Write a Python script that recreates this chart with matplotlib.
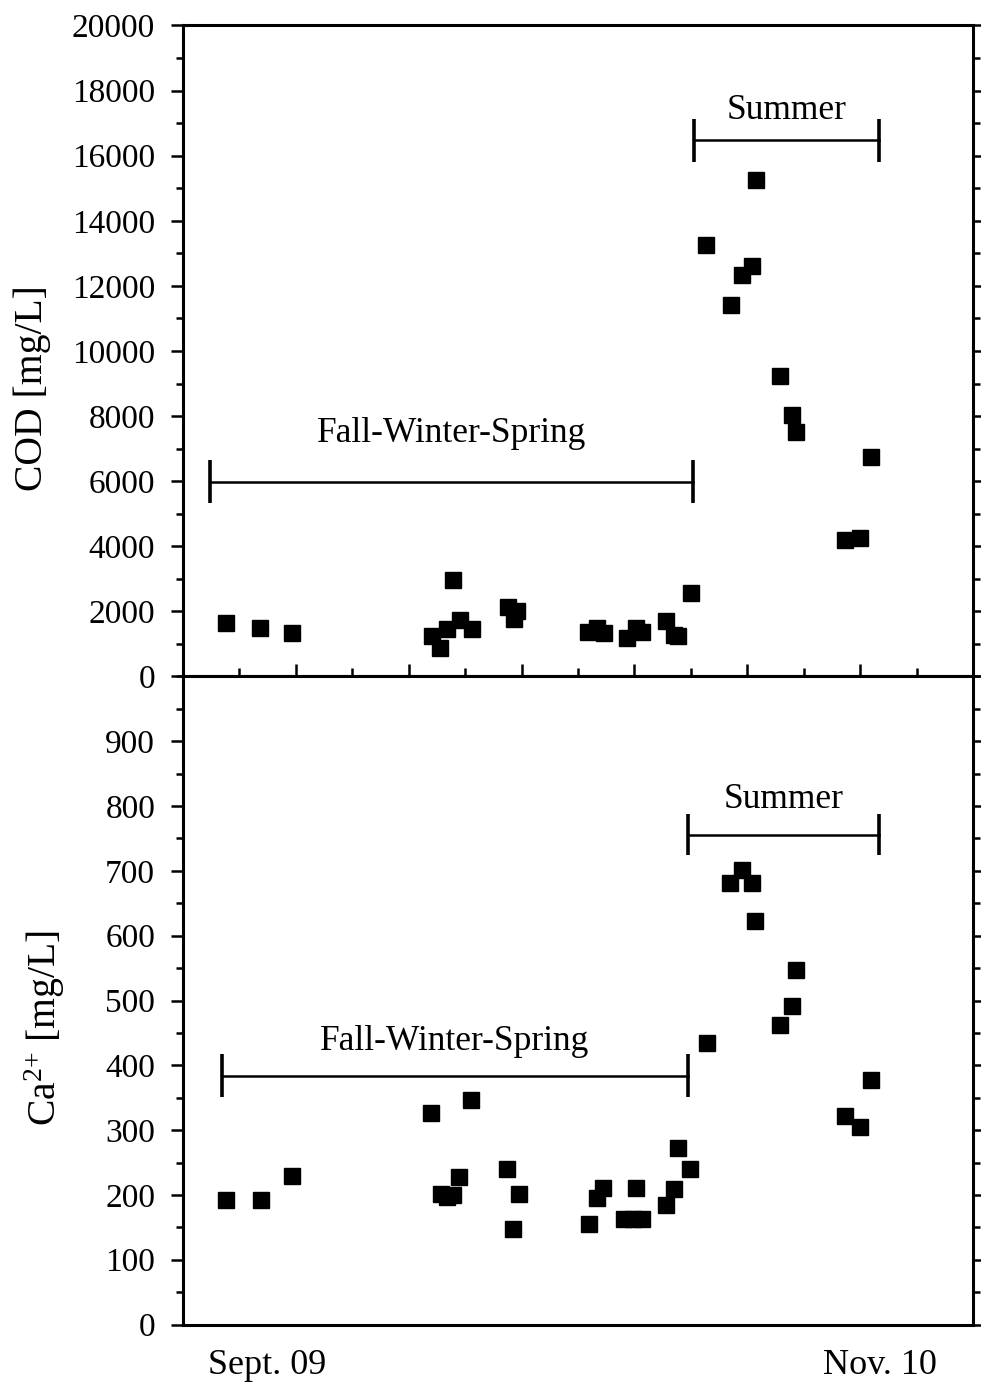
import matplotlib
matplotlib.use("Agg")
import matplotlib.pyplot as plt
from matplotlib.ticker import MultipleLocator

plt.rcParams['font.family'] = ['Liberation Serif', 'DejaVu Serif']
plt.rcParams['mathtext.default'] = 'regular'

# ---- data (x = months since Sept. 2009) ----
cod_month = [0.76, 1.37, 1.94, 4.41, 4.55, 4.67, 4.79, 4.90, 5.12, 5.76, 5.86, 5.92,
             7.18, 7.33, 7.46, 7.86, 8.02, 8.13, 8.56, 8.70, 8.78, 9.00, 9.26, 9.71,
             9.91, 10.08, 10.15, 10.58, 10.80, 10.87, 11.73, 12.00, 12.19]
cod_mgL = [1650, 1480, 1330, 1230, 880, 1470, 2970, 1750, 1470, 2130, 1780, 2010,
           1380, 1480, 1350, 1180, 1480, 1380, 1720, 1280, 1250, 2560, 13270, 11420,
           12320, 12620, 15250, 9230, 8040, 7500, 4200, 4240, 6740]

ca_month = [0.76, 1.38, 1.94, 4.40, 4.57, 4.67, 4.79, 4.89, 5.11, 5.75, 5.85, 5.96,
            7.19, 7.33, 7.44, 7.82, 7.98, 8.13, 8.02, 8.56, 8.70, 8.78, 8.99, 9.28,
            9.70, 9.91, 10.09, 10.14, 10.58, 10.80, 10.86, 11.73, 12.00, 12.19]
ca_mgL = [192, 192, 229, 326, 202, 196, 200, 228, 346, 240, 148, 202,
          155, 195, 211, 163, 163, 163, 211, 185, 209, 273, 240, 434,
          682, 702, 682, 623, 462, 492, 547, 321, 305, 378]

# season brackets: (start month, end month)
fws_span = (0.48, 9.04)
summer_span_cod = (9.06, 12.33)
fws_span_ca = (0.69, 8.95)
summer_span_ca = (8.95, 12.33)
season_labels = ["Fall-Winter-Spring", "Summer"]
x_labels = ["Sept. 09", "Nov. 10"]

W, H = 981, 1395
fig = plt.figure(figsize=(W / 100, H / 100), dpi=100)

left = 183 / W
width = (973 - 183) / W
ax1 = fig.add_axes([left, 1 - 676.5 / H, width, (676.5 - 25.5) / H])
ax2 = fig.add_axes([left, 1 - 1324.5 / H, width, (1324.5 - 676.5) / H])

spine_lw = 2.2
for ax in (ax1, ax2):
    for s in ax.spines.values():
        s.set_linewidth(spine_lw)
    ax.set_xlim(0, 14)

# top panel
ax1.plot(cod_month, cod_mgL, 's', color='black', markersize=11.5, zorder=5)
ax1.set_ylim(0, 20000)
ax1.yaxis.set_major_locator(MultipleLocator(2000))
ax1.yaxis.set_minor_locator(MultipleLocator(1000))
ax1.xaxis.set_major_locator(MultipleLocator(2))
ax1.xaxis.set_minor_locator(MultipleLocator(1))
ax1.tick_params(axis='x', which='major', direction='inout', length=18, width=1.8,
                bottom=True, top=False, labelbottom=False)
ax1.tick_params(axis='x', which='minor', direction='inout', length=11, width=1.8,
                bottom=True, top=False)

# bottom panel
ax2.plot(ca_month, ca_mgL, 's', color='black', markersize=11.5, zorder=5)
ax2.set_ylim(0, 1000)
ax2.set_yticks(range(0, 1000, 100))
ax2.yaxis.set_minor_locator(MultipleLocator(50))
ax2.tick_params(axis='x', which='both', bottom=False, top=False, labelbottom=False)

for ax in (ax1, ax2):
    ax.tick_params(axis='y', which='major', direction='out', length=9, width=1.8,
                   left=True, right=True, labelsize=24, pad=11)
    ax.tick_params(axis='y', which='minor', direction='out', length=5, width=1.8,
                   left=True, right=True)

# season brackets
def bracket(ax, span, y, cap, label, ty, lw=1.8):
    ax.plot(span, [y, y], color='black', lw=lw, zorder=4)
    ax.vlines(span, y - cap, y + cap, color='black', lw=2.6, zorder=4)
    ax.text((span[0] + span[1]) / 2, ty, label, ha='center', va='center', fontsize=25.5)

bracket(ax1, fws_span, 5990, 650, season_labels[0], 7465)
bracket(ax1, summer_span_cod, 16470, 650, season_labels[1], 17390)
bracket(ax2, fws_span_ca, 384, 33, season_labels[0], 437)
bracket(ax2, summer_span_ca, 756, 32, season_labels[1], 810)

# axis labels
fig.text(32 / W, 1 - 388 / H, "COD [mg/L]", rotation=90, ha='center', va='center', fontsize=28.5)
fig.text(45 / W, 1 - 1028 / H, "Ca$^{2{+}}$ [mg/L]", rotation=90, ha='center', va='center', fontsize=28.5)
fig.text(267 / W, 1 - 1365 / H, x_labels[0], ha='center', va='center', fontsize=26)
fig.text(880 / W, 1 - 1366 / H, x_labels[1], ha='center', va='center', fontsize=26)

fig.savefig("out.png", dpi=100)
